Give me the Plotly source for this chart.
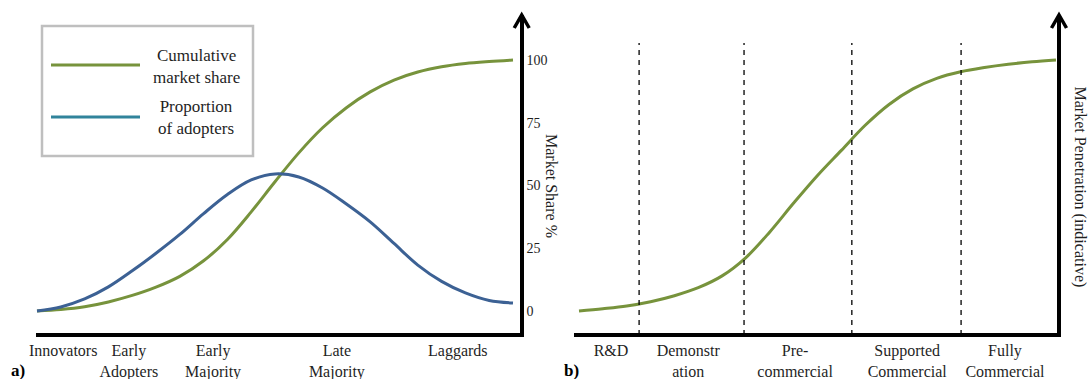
import plotly.graph_objects as go

W, H = 1091, 379

# ---------------- data ----------------
# Panel a: diffusion of innovations (x = position along timeline 0-100, y = Market Share %)
a_x = [0, 5, 10, 15, 20, 25, 30, 35, 40, 45, 50, 55, 60, 65, 70, 75, 80, 85, 90, 95, 100]
a_cum_share = [0, 0.6, 1.7, 3.6, 6.2, 9.5, 13.8, 20.0, 28.5, 39.5, 51.5, 63.0, 73.0, 81.0, 87.3, 92.0, 95.2, 97.3, 98.6, 99.4, 100]
a_prop_adopters = [0, 1.6, 4.8, 9.6, 16.0, 23.0, 30.5, 38.8, 46.4, 52.2, 54.6, 53.4, 49.0, 42.6, 35.5, 26.9, 18.3, 11.8, 7.2, 4.2, 3.2]

a_categories = ["Innovators", "Early<br>Adopters", "Early<br>Majority", "Late<br>Majority", "Laggards"]
a_category_x = [5.5, 19.3, 37.0, 63.0, 88.4]
a_ytick_vals = [0, 25, 50, 75, 100]

# Panel b: technology maturity stages
b_x = [0, 5, 10, 15, 20, 25, 30, 35, 40, 45, 50, 55, 60, 65, 70, 75, 80, 85, 90, 95, 100]
b_penetration = [0, 0.9, 2.0, 3.7, 6.1, 9.3, 14.0, 21.3, 31.5, 43.0, 54.0, 64.0, 74.0, 82.3, 88.5, 92.7, 95.3, 97.0, 98.3, 99.3, 100]

b_stages = ["R&D", "Demonstr<br>ation", "Pre-<br>commercial", "Supported<br>Commercial", "Fully<br>Commercial"]
b_stage_x = [6.7, 22.9, 45.3, 68.8, 89.3]
b_stage_boundaries = [12.6, 34.6, 57.2, 80.1]

legend_labels = ["Cumulative<br>market share", "Proportion<br>of adopters"]

# ---------------- style ----------------
GREEN = "#77933C"
BLUE = "#3C6194"
LEG_BLUE = "#31849B"
FONT = "Liberation Serif, Times New Roman, serif"
TXT = "#1f1f1f"


def px(p):
    return p / W


def py(p):
    return 1 - p / H


fig = go.Figure()
line_kw = dict(width=3, shape="spline", smoothing=1.0)
fig.add_trace(go.Scatter(x=a_x, y=a_cum_share, mode="lines", line=dict(color=GREEN, **line_kw),
                         xaxis="x", yaxis="y", showlegend=False, hoverinfo="skip"))
fig.add_trace(go.Scatter(x=a_x, y=a_prop_adopters, mode="lines", line=dict(color=BLUE, **line_kw),
                         xaxis="x", yaxis="y", showlegend=False, hoverinfo="skip"))
fig.add_trace(go.Scatter(x=b_x, y=b_penetration, mode="lines", line=dict(color=GREEN, **line_kw),
                         xaxis="x2", yaxis="y2", showlegend=False, hoverinfo="skip"))

ydom = [py(333), py(15)]
yrange = [(311 - 333) / 2.51, (311 - 15) / 2.51]

common_x = dict(showgrid=False, zeroline=False, showline=True, linecolor="black", linewidth=4,
                ticks="", tickfont=dict(family=FONT, size=16, color=TXT), tickmode="array",
                fixedrange=True, automargin=False)
common_y = dict(side="right", showgrid=False, zeroline=False, showline=True, linecolor="black",
                linewidth=3.5, ticks="", fixedrange=True, automargin=False, domain=ydom, range=yrange)

fig.update_layout(
    width=W, height=H,
    margin=dict(l=0, r=0, t=0, b=0, autoexpand=False),
    paper_bgcolor="white", plot_bgcolor="white",
    xaxis=dict(domain=[px(36), px(520)], range=[(36 - 37) / 4.76, (520 - 37) / 4.76],
               tickvals=a_category_x, ticktext=a_categories, anchor="y", **common_x),
    yaxis=dict(anchor="x", tickmode="array", tickvals=a_ytick_vals, ticktext=[str(v) for v in a_ytick_vals],
               tickfont=dict(family=FONT, size=14, color=TXT), **common_y),
    xaxis2=dict(domain=[px(574), px(1057)], range=[(574 - 579) / 4.77, (1057 - 579) / 4.77],
                tickvals=b_stage_x, ticktext=b_stages, anchor="y2", **common_x),
    yaxis2=dict(anchor="x2", showticklabels=False, **common_y),
)

shapes = []
# arrow heads on vertical axes
for xa in (521.7, 1059):
    shapes.append(dict(type="path", xref="paper", yref="paper",
                       path=f"M {px(xa-7.5)} {py(28)} L {px(xa)} {py(15)} L {px(xa+7.5)} {py(28)}",
                       line=dict(color="black", width=3.5)))
# stage boundaries (dashed)
for bx in b_stage_boundaries:
    shapes.append(dict(type="line", xref="x2", yref="paper", x0=bx, x1=bx, y0=py(335), y1=py(43),
                       line=dict(color="black", width=1.3, dash="5px,5px")))
# legend box
shapes.append(dict(type="rect", xref="paper", yref="paper", x0=px(42), x1=px(253), y0=py(156), y1=py(26),
                   line=dict(color="#BFBFBF", width=2.5), fillcolor="white", layer="below"))
for ly, col in ((65, GREEN), (117, LEG_BLUE)):
    shapes.append(dict(type="line", xref="paper", yref="paper", x0=px(51), x1=px(140), y0=py(ly), y1=py(ly),
                       line=dict(color=col, width=3)))
fig.update_layout(shapes=shapes)

ann = []
for txt, ly in zip(legend_labels, (66.5, 118)):
    ann.append(dict(text=txt, x=px(196), y=py(ly), xref="paper", yref="paper", showarrow=False,
                    font=dict(family=FONT, size=17, color=TXT), xanchor="center", yanchor="middle", align="center"))
ann.append(dict(text="Market Share %", x=px(552), y=py(186), xref="paper", yref="paper", showarrow=False,
                textangle=90, font=dict(family=FONT, size=16, color=TXT), xanchor="center", yanchor="middle"))
ann.append(dict(text="Market Penetration (indicative)", x=px(1080), y=py(186.5), xref="paper", yref="paper",
                showarrow=False, textangle=90, font=dict(family=FONT, size=16, color=TXT),
                xanchor="center", yanchor="middle"))
ann.append(dict(text="<b>a)</b>", x=px(18), y=py(370), xref="paper", yref="paper", showarrow=False,
                font=dict(family=FONT, size=17, color="black"), xanchor="center", yanchor="middle"))
ann.append(dict(text="<b>b)</b>", x=px(571), y=py(370), xref="paper", yref="paper", showarrow=False,
                font=dict(family=FONT, size=17, color="black"), xanchor="center", yanchor="middle"))
fig.update_layout(annotations=ann)

fig.write_html("out.html", config={"displayModeBar": False},
               post_script="document.body.style.margin='0';document.body.style.overflow='hidden';")
